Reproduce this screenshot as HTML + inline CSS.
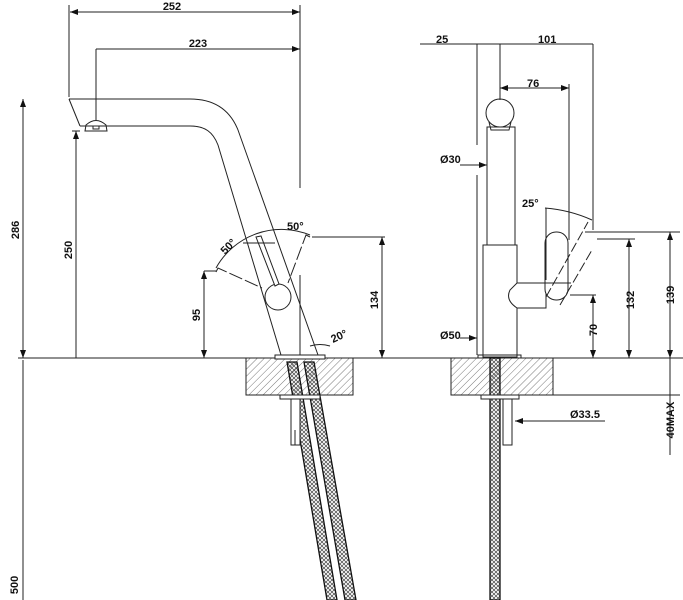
<!DOCTYPE html>
<html><head><meta charset="utf-8"><style>
html,body{margin:0;padding:0;background:#fff}
svg{display:block}
text{font-family:"Liberation Sans",sans-serif;font-weight:bold;font-size:11px;fill:#111}
</style></head><body>
<svg width="683" height="600" viewBox="0 0 683 600" xmlns="http://www.w3.org/2000/svg">
<defs>
<pattern id="h" width="5" height="5" patternUnits="userSpaceOnUse" patternTransform="rotate(45)">
<line x1="0" y1="0" x2="0" y2="5" stroke="#555" stroke-width="0.8"/></pattern>
<pattern id="b" width="4" height="4" patternUnits="userSpaceOnUse">
<path d="M0 0L4 4M4 0L0 4" stroke="#444" stroke-width="0.7"/></pattern>
<marker id="a" markerWidth="8" markerHeight="6" refX="8" refY="3" orient="auto-start-reverse" markerUnits="userSpaceOnUse">
<path d="M0 0L8 3L0 6z" fill="#111"/></marker>
</defs>
<g stroke="#222" stroke-width="1" fill="none">
<line x1="18" y1="358" x2="683" y2="358"/>
<rect x="246" y="358" width="107" height="37" fill="url(#h)"/>
<rect x="451" y="358" width="102" height="37" fill="url(#h)"/>
<path d="M287 362L327 600L337 600L297 362z" fill="url(#b)" stroke="#111" stroke-width="1.3"/>
<path d="M304 362L345 600L356 600L314 362z" fill="url(#b)" stroke="#111" stroke-width="1.3"/>
<rect x="280" y="395" width="40" height="4" fill="#fff"/>
<rect x="291" y="399" width="9" height="46" fill="#fff"/>
<line x1="295" y1="430" x2="295" y2="445"/>
<rect x="275" y="355" width="50" height="4" fill="#fff"/>
<path d="M69 99L190 99C215 99 230 110 238 130L318 355"/>
<path d="M80 126L190 126C205 126 213 132 218 145L281 355"/>
<line x1="69" y1="99" x2="80" y2="126"/>
<path d="M85 131L86 125Q96 116 106 125L107 131z"/>
<rect x="93" y="126" width="6" height="3"/>
<line x1="300" y1="275" x2="300" y2="355"/>
<circle cx="278" cy="297" r="13" fill="#fff"/>
<path d="M256 237L261 236L279 284L275 286z" fill="#fff"/>
<line x1="243" y1="243" x2="275" y2="243"/>
<path d="M216 272L218 268L262 288" stroke-dasharray="14 3"/>
<path d="M310 237L306 235L288 283" stroke-dasharray="14 3"/>
<path d="M216 268A75 75 0 0 1 310 235"/>
<line x1="69" y1="5" x2="69" y2="97"/>
<line x1="300" y1="5" x2="300" y2="188"/>
<line x1="96" y1="49" x2="96" y2="120"/>
<line x1="70" y1="12" x2="300" y2="12" marker-start="url(#a)" marker-end="url(#a)"/>
<line x1="96" y1="49" x2="300" y2="49" marker-end="url(#a)"/>
<line x1="23" y1="99" x2="23" y2="358" marker-start="url(#a)" marker-end="url(#a)"/>
<line x1="76" y1="131" x2="76" y2="358" marker-start="url(#a)"/>
<line x1="72" y1="131" x2="80" y2="131"/>
<line x1="204" y1="271" x2="204" y2="358" marker-start="url(#a)" marker-end="url(#a)"/>
<line x1="204" y1="271" x2="216" y2="271"/>
<line x1="312" y1="237" x2="385" y2="237"/>
<line x1="382" y1="237" x2="382" y2="358" marker-start="url(#a)" marker-end="url(#a)"/>
<line x1="23" y1="360" x2="23" y2="600"/>
<path d="M310 346Q320 343 330 346"/>
<line x1="420" y1="44" x2="593" y2="44"/>
<line x1="477" y1="44" x2="477" y2="145"/>
<line x1="477" y1="175" x2="477" y2="355"/>
<line x1="500" y1="44" x2="500" y2="100"/>
<line x1="593" y1="44" x2="593" y2="230"/>
<line x1="500" y1="88" x2="569" y2="88" marker-start="url(#a)" marker-end="url(#a)"/>
<line x1="569" y1="84" x2="569" y2="240"/>
<circle cx="500" cy="113" r="14"/>
<path d="M489 122L491 130L509 130L511 122"/>
<rect x="487" y="127" width="28" height="118"/>
<rect x="483" y="245" width="34" height="112"/>
<rect x="478" y="355" width="43" height="3"/>
<path d="M517 283L546 283L546 308L517 308Q505 300 510 290z" fill="#fff"/>
<rect x="545" y="232" width="23" height="68" rx="11" fill="#fff"/>
<line x1="545" y1="283" x2="571" y2="283"/>
<path d="M546 297L588 222" stroke-dasharray="10 3"/>
<path d="M560 305L592 250" stroke-dasharray="10 3"/>
<path d="M545 208Q570 210 592 220"/>
<line x1="546" y1="208" x2="546" y2="280"/>
<line x1="570" y1="295" x2="596" y2="295"/>
<line x1="593" y1="295" x2="593" y2="358" marker-start="url(#a)" marker-end="url(#a)"/>
<line x1="585" y1="232" x2="680" y2="232"/>
<line x1="597" y1="239" x2="635" y2="239"/>
<line x1="629" y1="239" x2="629" y2="358" marker-start="url(#a)" marker-end="url(#a)"/>
<line x1="670" y1="232" x2="670" y2="358" marker-start="url(#a)" marker-end="url(#a)"/>
<line x1="553" y1="395" x2="680" y2="395"/>
<line x1="670" y1="358" x2="670" y2="455"/>
<line x1="460" y1="338" x2="477" y2="338" marker-end="url(#a)"/>
<line x1="460" y1="165" x2="487" y2="165" marker-end="url(#a)"/>
<line x1="605" y1="421" x2="515" y2="421" marker-end="url(#a)"/>
<rect x="490" y="358" width="10" height="242" fill="url(#b)" stroke="#111" stroke-width="1.3"/>
<rect x="481" y="395" width="38" height="4" fill="#fff"/>
<rect x="503" y="399" width="9" height="46" fill="#fff"/>
</g>
<text x="172" y="10" text-anchor="middle">252</text>
<text x="198" y="47" text-anchor="middle">223</text>
<text transform="translate(19,230) rotate(-90)" text-anchor="middle">286</text>
<text transform="translate(72,250) rotate(-90)" text-anchor="middle">250</text>
<text transform="translate(200,315) rotate(-90)" text-anchor="middle">95</text>
<text transform="translate(378,300) rotate(-90)" text-anchor="middle">134</text>
<text x="287" y="230" font-size="10">50°</text>
<text transform="translate(225,255) rotate(-45)" font-size="10">50°</text>
<text transform="translate(333,343) rotate(-25)" font-size="10">20°</text>
<text x="436" y="43">25</text>
<text x="538" y="43">101</text>
<text x="527" y="87">76</text>
<text x="440" y="163">Ø30</text>
<text x="440" y="339">Ø50</text>
<text x="522" y="207">25°</text>
<text x="570" y="418">Ø33.5</text>
<text transform="translate(597,330) rotate(-90)" text-anchor="middle">70</text>
<text transform="translate(634,300) rotate(-90)" text-anchor="middle">132</text>
<text transform="translate(674,295) rotate(-90)" text-anchor="middle">139</text>
<text transform="translate(674,420) rotate(-90)" text-anchor="middle">40MAX</text>
<text transform="translate(18,585) rotate(-90)" text-anchor="middle">500</text>
</svg>
</body></html>
